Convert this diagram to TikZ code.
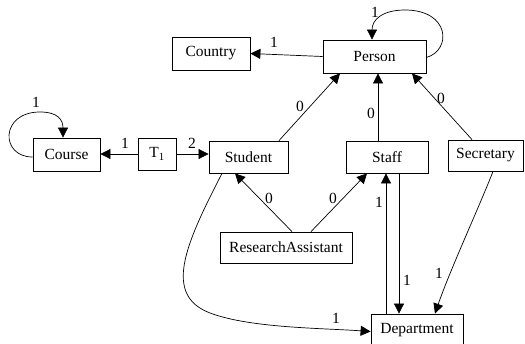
\documentclass[tikz,border=0pt]{standalone}
\usepackage{fontspec}
\setmainfont{Liberation Serif}
\usetikzlibrary{arrows.meta,calc}
\begin{document}
\begin{tikzpicture}[x=1pt,y=-1pt,
  box/.style={draw,line width=0.8pt,inner sep=0pt,anchor=center,font=\fontsize{15.5}{18}\selectfont},
  conn/.style={line width=0.7pt},
  arr/.style={line width=0.7pt,-{Triangle[length=10pt,width=10pt]}},
  lbl/.style={font=\fontsize{15.5}{18}\selectfont,inner sep=0pt}]
\useasboundingbox (0,0) rectangle (525,343);
% boxes
\node[box,minimum width=78pt,minimum height=33pt] (country) at (211,53.5) {Country};
\node[box,minimum width=103pt,minimum height=33pt] (person) at (374.5,56.5) {Person};
\node[box,minimum width=67pt,minimum height=33pt] (course) at (66.5,154.5) {Course};
\node[box,minimum width=38pt,minimum height=32pt] (t1) at (157,154) {T\textsubscript{1}};
\node[box,minimum width=79pt,minimum height=32pt] (student) at (248.5,157) {Student};
\node[box,minimum width=82pt,minimum height=32pt] (staff) at (387,157) {\raisebox{-3pt}{Staff}};
\node[box,minimum width=75pt,minimum height=31pt] (secretary) at (485.5,155.5) {Secretary};
\node[box,minimum width=132pt,minimum height=31pt] (ra) at (286,247.5) {ResearchAssistant};
\node[box,minimum width=92pt,minimum height=32pt] (dept) at (417,330) {Department};
% connectors
\draw[arr] (person.west) -- (country.east);
\draw[arr] ([yshift=-1pt]person.east) .. controls (452,50) and (450,10) .. (405,10) .. controls (382,10) and (372,20) .. ([xshift=-2.5pt]person.north);
\draw[arr] ([yshift=-2.5pt]course.west) .. controls (0,157) and (0,112) .. (40,112) .. controls (58,112) and (63,120) .. ([xshift=-3.5pt]course.north);
\draw[arr] (t1.west) -- (t1.west -| course.east);
\draw[arr] (t1.east) -- (t1.east -| student.west);
\draw[arr] ([xshift=30.5pt]student.north) -- ([xshift=-34.5pt]person.south);
\draw[arr] ([xshift=-9pt]staff.north) -- ([xshift=-9pt]staff.north |- person.south);
\draw[arr] ([xshift=-13.5pt]secretary.north) -- ([xshift=37.5pt]person.south);
\draw[arr] ([xshift=6pt]ra.north) -- ([xshift=-13.5pt]student.south);
\draw[arr] ([xshift=25pt]ra.north) -- ([xshift=-20pt]staff.south);
\draw[arr] ([xshift=-31pt]dept.north) -- ([xshift=-31pt]dept.north |- staff.south);
\draw[arr] ([xshift=12pt]staff.south) -- ([xshift=12pt]staff.south |- dept.north);
\draw[arr] ([xshift=7.5pt]secretary.south) .. controls (480,205) and (450,270) .. ([xshift=18pt]dept.north);
\draw[arr] ([xshift=-26.5pt]student.south) .. controls (185,245) and (163,295) .. (210,313) .. controls (250,328) and (320,328) .. ([yshift=-1.5pt]dept.west);
% labels
\node[lbl] (l1) at (274,42) {1};
\node[lbl] (l2) at (375,12) {1};
\node[lbl] (l3) at (36,102) {1};
\node[lbl] (l4) at (125,143) {1};
\node[lbl] (l5) at (192,143) {2};
\node[lbl] (l6) at (300,106) {0};
\node[lbl] (l7) at (371,113) {0};
\node[lbl] (l8) at (441,98) {0};
\node[lbl] (l9) at (269,198) {0};
\node[lbl] (l10) at (333,198) {0};
\node[lbl] (l11) at (379,202) {1};
\node[lbl] (l12) at (407,280) {1};
\node[lbl] (l13) at (439,273) {1};
\node[lbl] (l14) at (336,318) {1};
\end{tikzpicture}
\end{document}
